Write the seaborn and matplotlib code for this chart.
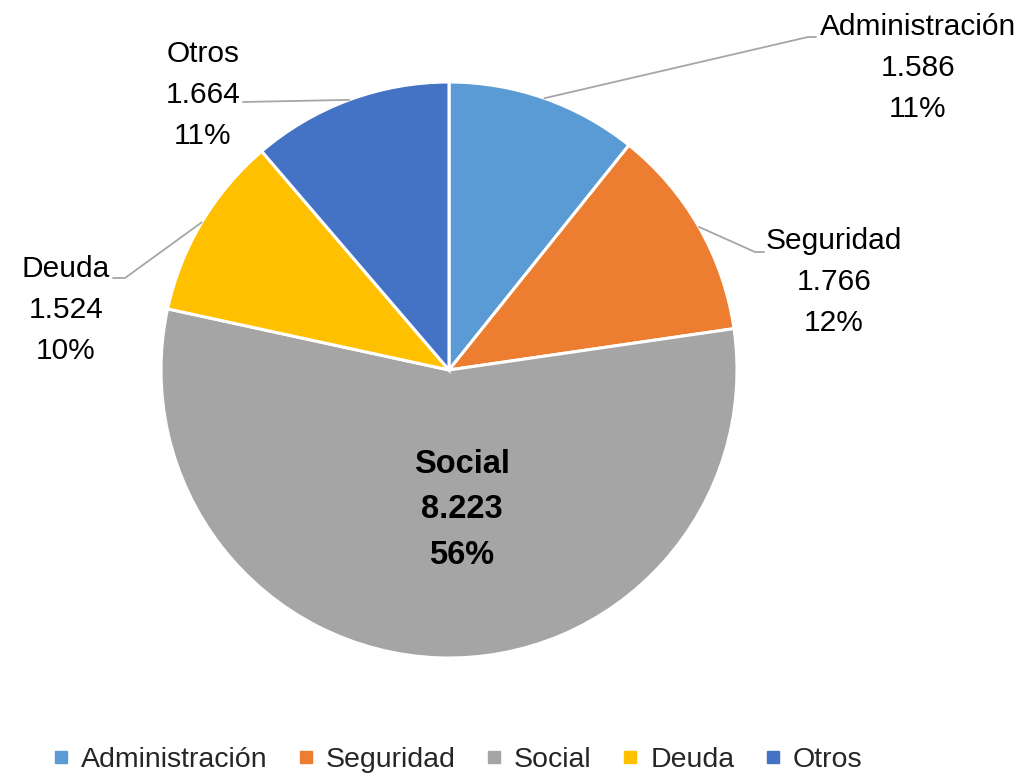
import matplotlib.pyplot as plt
import seaborn as sns
import numpy as np
from matplotlib.lines import Line2D

categories = ['Administración', 'Seguridad', 'Social', 'Deuda', 'Otros']
values = [1586, 1766, 8223, 1524, 1664]
colors = ['#5B9BD5', '#ED7D31', '#A5A5A5', '#FFC000', '#4472C4']

sns.set_theme(style='white')
plt.rcParams['font.family'] = ['Liberation Sans', 'DejaVu Sans']

W, H = 1020, 776
CX, CY, R = 449, 370, 288


def px(x, y):
    # pixel position in the picture -> data coords (pie radius = 1)
    return ((x - CX) / R, (CY - y) / R)


fig = plt.figure(figsize=(W / 100, H / 100), dpi=100)
ax = fig.add_axes([0, 0, 1, 1])

wedges, _ = ax.pie(values, colors=colors, startangle=90, counterclock=False,
                   radius=1, wedgeprops=dict(edgecolor='white', linewidth=2.2))
ax.set_xlim(-CX / R, (W - CX) / R)
ax.set_ylim(-(H - CY) / R, CY / R)
ax.set_aspect('equal')
ax.axis('off')

total = sum(values)
labels = [f'{c}\n{v / 1000:.3f}\n{round(100 * v / total)}%' for c, v in zip(categories, values)]

# label layout: text centre, leader bend, leader end (pixels)
layout = {
    'Administración': ((918, 68), (808, 37), (816, 37)),
    'Seguridad': ((834, 282), (755, 252), (764, 252)),
    'Deuda': ((66, 310), (125, 278), (113, 278)),
    'Otros': ((203, 95), None, (243, 102)),
}

for w, cat, lab in zip(wedges, categories, labels):
    if cat == 'Social':
        ax.text(*px(462, 510), lab, ha='center', va='center', fontsize=23.5,
                fontweight='bold', color='black', linespacing=1.62)
        continue
    mid = np.deg2rad((w.theta1 + w.theta2) / 2)
    start = (np.cos(mid), np.sin(mid))
    tpos, bend, end = layout[cat]
    pts = [start] + ([px(*bend)] if bend else []) + [px(*end)]
    xs, ys = zip(*pts)
    ax.plot(xs, ys, color='#A6A6A6', lw=1.3)
    ax.text(*px(*tpos), lab, ha='center', va='center', fontsize=21.5,
            color='black', linespacing=1.58)

handles = [Line2D([], [], marker='s', linestyle='', markersize=9,
                  markerfacecolor=c, markeredgecolor=c) for c in colors]
fig.legend(handles, categories, loc='center', bbox_to_anchor=(0.447, 1 - 760 / H),
           ncol=5, frameon=False, fontsize=20.5, handlelength=0.8,
           handletextpad=0.3, columnspacing=0.95, borderaxespad=0)

fig.savefig('out.png', dpi=100)
